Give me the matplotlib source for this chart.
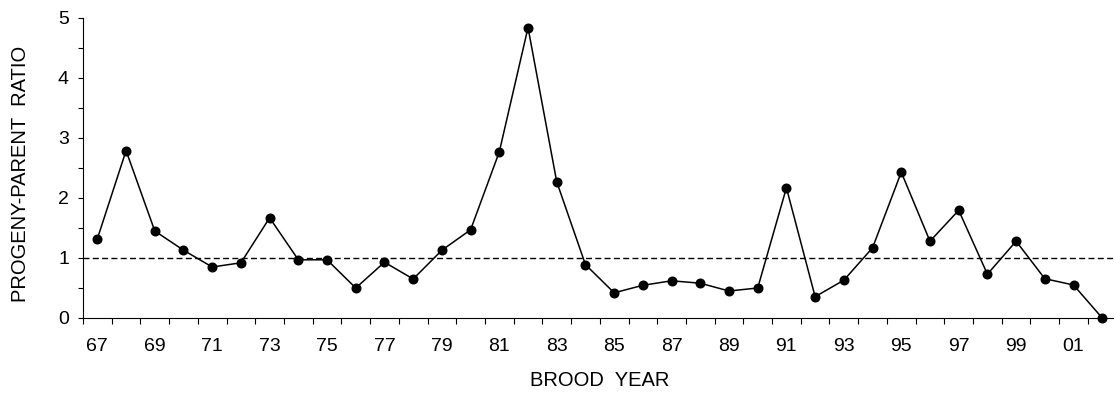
import matplotlib.pyplot as plt

plt.rcParams['font.family'] = ['Liberation Sans', 'DejaVu Sans']

# brood years 1967-2002
years = ['67', '68', '69', '70', '71', '72', '73', '74', '75', '76', '77', '78',
         '79', '80', '81', '82', '83', '84', '85', '86', '87', '88', '89', '90',
         '91', '92', '93', '94', '95', '96', '97', '98', '99', '00', '01', '02']
ratio = [1.32, 2.79, 1.45, 1.13, 0.85, 0.92, 1.67, 0.97, 0.97, 0.50, 0.93, 0.65,
         1.13, 1.47, 2.77, 4.84, 2.27, 0.89, 0.42, 0.545, 0.62, 0.58, 0.45, 0.50,
         2.17, 0.355, 0.63, 1.17, 2.43, 1.28, 1.795, 0.73, 1.28, 0.655, 0.55, 0.0]
replacement = 1.0

fig = plt.figure(figsize=(11.14, 3.95), dpi=100)
ax = fig.add_axes([83 / 1114, 77 / 395, 1033.6 / 1114, 300 / 395])

x = list(range(len(years)))
ax.axhline(replacement, color='black', lw=1.0, ls=(0, (4.3, 2.4)), zorder=1)
ax.plot(x, ratio, color='black', lw=1.1, marker='o', markersize=6.2,
        clip_on=False, zorder=3)

ax.set_xlim(-0.5, len(years) - 0.5)
ax.set_ylim(0, 5)

# tick marks sit between years, labels on every other year
ax.set_xticks([i - 0.5 for i in range(len(years) + 1)])
ax.set_xticklabels([])
ax.set_xticks(x[::2], minor=True)
ax.set_xticklabels(years[::2], minor=True)
ax.tick_params(axis='x', which='major', direction='out', length=4.3, width=0.8)
ax.tick_params(axis='x', which='minor', length=0, pad=14.5, labelsize=14)

ax.set_yticks([0, 1, 2, 3, 4, 5])
ax.set_yticks([0.5, 1.5, 2.5, 3.5, 4.5], minor=True)
ax.tick_params(axis='y', which='major', direction='out', length=3.6, width=0.8,
               pad=6.5, labelsize=14)
ax.tick_params(axis='y', which='minor', direction='out', length=3.6, width=0.8)

for s in ['top', 'right']:
    ax.spines[s].set_visible(False)
for s in ['left', 'bottom']:
    ax.spines[s].set_linewidth(0.8)

fig.text(600 / 1114, 1 - 381 / 395, 'BROOD  YEAR', ha='center', va='center',
         fontsize=14.5)
fig.text(21 / 1114, 1 - 174 / 395, 'PROGENY-PARENT  RATIO', ha='center',
         va='center', rotation=90, fontsize=14.5)

fig.savefig('out.png', dpi=100)
